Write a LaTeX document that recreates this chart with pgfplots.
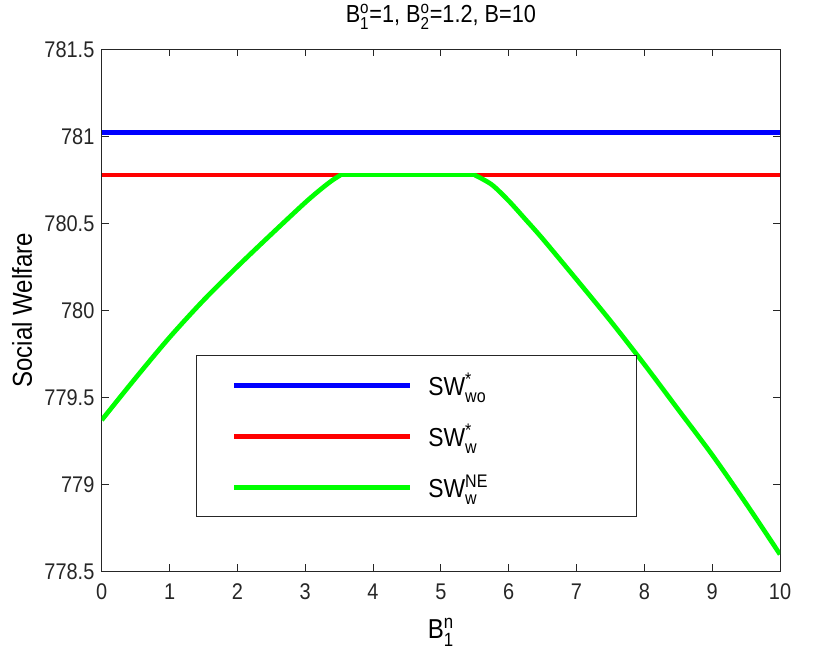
\documentclass[border=0pt]{standalone}
\usepackage{pgfplots}
\pgfplotsset{compat=1.18}
\usepackage{fontspec}
\usepackage{amsmath}
\setmainfont{Liberation Sans}[FakeStretch=0.88]
\definecolor{axgray}{RGB}{38,38,38}
\definecolor{mblue}{RGB}{0,0,255}
\definecolor{mred}{RGB}{255,0,0}
\definecolor{mgreen}{RGB}{0,255,0}
\begin{document}
\begin{tikzpicture}
\begin{axis}[
  scale only axis, width=508.7pt, height=391.5pt,
  xmin=0, xmax=10, ymin=778.5, ymax=781.5,
  xtick={0,1,...,10},
  ytick={778.5,779,779.5,780,780.5,781,781.5},
  scaled y ticks=false,
  tick align=inside, major tick length=5.25pt,
  axis line style={axgray, line width=0.6pt},
  every tick/.style={axgray, line width=0.6pt},
  /pgf/number format/assume math mode=true,
  tick label style={font=\fontsize{17}{20}\selectfont, text=axgray},
  yticklabel style={/pgf/number format/fixed, /pgf/number format/precision=1, xshift=-2pt},
  xticklabel style={yshift=-6pt},
  title={B$^{\text{o}}_{\text{1}}$=1, B$^{\text{o}}_{\text{2}}$=1.2, B=10},
  title style={font=\fontsize{18.5}{22}\selectfont, at={(axis description cs:0.5,1)}, anchor=base, yshift=14.5pt},
  xlabel={B$^{\text{n}}_{\text{1}}$},
  xlabel style={font=\fontsize{20.5}{24}\selectfont, at={(axis description cs:0.5,-0.129)}, anchor=base},
  ylabel={Social Welfare},
  ylabel style={font=\fontsize{20.5}{24}\selectfont, at={(axis description cs:-0.1175,0.5)}, anchor=center},
  legend image code/.code={\draw[#1] (0pt,0pt) -- (132pt,0pt);},
  legend cell align=left,
  legend style={draw=none, fill=none, inner sep=0pt, outer sep=0pt,
    at={(axis description cs:0.1916,0.259)}, anchor=west,
    column sep=12pt, row sep=0pt,
    nodes={minimum height=38.25pt, inner sep=0pt},
    font=\fontsize{19.5}{22}\selectfont},
]
\addplot[mblue, line width=3.5pt] coordinates {(0,781.023) (10,781.023)};
\addlegendentry{SW$^{\text{*}}_{\text{wo}}$}
\addplot[mred, line width=3.5pt] coordinates {(0,780.778) (10,780.778)};
\addlegendentry{SW$^{\text{*}}_{\text{w}}$}
\addplot[mgreen, line width=3.5pt, smooth] coordinates {
 (0,779.370) (0.5,779.612) (1,779.845) (1.5,780.058) (2,780.252)
 (2.5,780.438) (3,780.620) (3.25,780.703) (3.4,780.748) (3.52,780.778)};
\addlegendentry{SW$^{\text{NE}}_{\text{w}}$}
\addplot[mgreen, line width=3.5pt, forget plot] coordinates {(3.50,780.778) (5.52,780.778)};
\addplot[mgreen, line width=3.5pt, smooth, forget plot] coordinates {
 (5.5,780.778) (5.75,780.723) (6,780.630) (6.25,780.522) (6.5,780.412)
 (7,780.178) (7.5,779.940) (8,779.690) (8.5,779.430) (9,779.170)
 (9.5,778.890) (10,778.598)};
\filldraw[fill=white, draw=axgray, line width=0.6pt]
  (axis description cs:0.140,0.413) rectangle (axis description cs:0.788,0.105);
\end{axis}
\path (current axis.south west) ++(-76.3pt,-65.5pt) rectangle ++(609.75pt,492.75pt);
\end{tikzpicture}
\end{document}
